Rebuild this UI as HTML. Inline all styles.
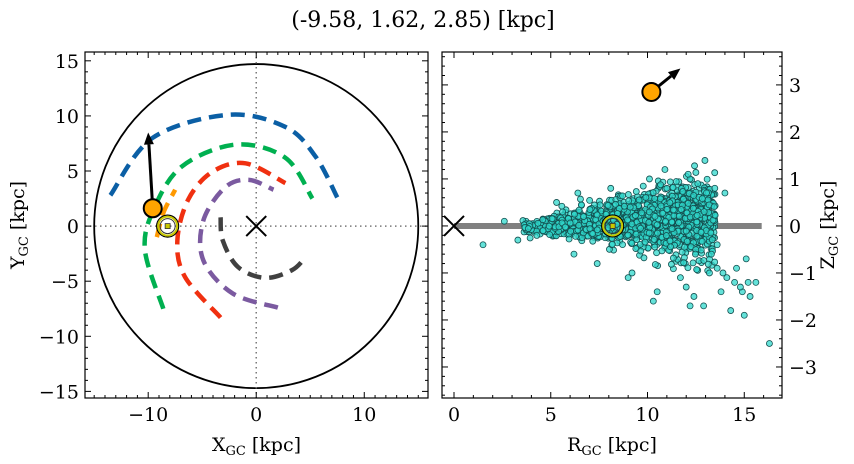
<!DOCTYPE html>
<html><head><meta charset="utf-8"><style>
body{margin:0;background:#fff}
svg{display:block;font-family:"DejaVu Serif","Liberation Serif",serif}
</style></head><body>
<svg id="fig" width="854" height="464" viewBox="0 0 854 464">
<text x="423" y="27" font-size="22" text-anchor="middle">(-9.58, 1.62, 2.85) [kpc]</text>
<g id="left"></g>
<g id="right"></g>
</svg>
<script>
// ---- data ----
const galaxyRadius = 15;
const blueArc = [[-13.5,2.8],[-9.6,8],[-2.6,10.1],[2.7,9],[5.5,6.3],[7.5,2.6]];
const greenArc = [[-8.6,-7.5],[-10.3,-2.2],[-9.5,1.5],[-6.9,5.4],[-1.9,7.4],[2.7,6.2],[5.2,2.5]];
const orangeArc = [[-9.2,-1],[-8.6,1.2],[-7.5,3.3]];
const redArc = [[-3.3,-8.3],[-6.6,-4.6],[-7.3,-1.3],[-6.3,2.4],[-4.1,4.9],[-1,5.7],[2.7,3.9]];
const purpleArc = [[2,-7.4],[-2.2,-6.1],[-4.9,-3.1],[-4.9,0.5],[-2.9,3.5],[-0.7,4.2],[1.6,3.3]];
const grayArc = [[-3.3,0.8],[-3.1,-1.3],[-1.7,-3.7],[0.8,-4.7],[3.3,-4],[4.5,-2.9]];
const arcColors = ['#0b5fa5','#00b050','#ff9900','#f03010','#7b5aa0','#404040'];
const starXY = [-9.58,1.62];
const starVelXY = [-10.0,8.5];
const sunXY = [-8.2,0];
const starRZ = [10.2,2.85];
const starVelRZ = [11.7,3.35];
const sunRZ = [8.2,0];
const xTicksL = [-10,0,10];
const yTicksL = [-15,-10,-5,0,5,10,15];
const xTicksR = [0,5,10,15];
const yTicksR = [-3,-2,-1,0,1,2,3];
const outlierR = [1.5,2.6,3.3,4.6,5.3,6.2,7.4,9.0,9.2,10.5,10.3,10.9,12.1,12.6,13.2,13.6,14.1,14.5,14.9,15.3,15.0,14.3,13.8,12.9,12.0,11.7,13.3,14.6,15.6,16.3,14.0,11.0,10.1,8.1,6.4,13.6,12.2,15.1,13.9,14.8,15.2,12.4];
const outlierZ = [-0.4,0.1,-0.3,-0.1,0.5,-0.6,-0.8,-1.1,-1.0,-1.4,-1.6,1.2,1.1,0.9,-1.0,-0.9,-1.1,-1.2,-1.4,-1.5,-1.9,-1.8,-1.4,-1.7,-1.3,-1.1,-0.6,-0.9,-1.2,-2.5,0.7,0.8,1.0,0.8,0.7,-0.4,-1.7,-0.7,-1.0,-1.3,-1.2,-1.5];
const cloudCount = 1400;

const NS='http://www.w3.org/2000/svg';
function el(tag,attrs,parent){const e=document.createElementNS(NS,tag);for(const k in attrs)e.setAttribute(k,attrs[k]);parent.appendChild(e);return e;}

const L={x0:85,x1:428,y0:52,y1:398,xmin:-15.85,xmax:15.9,ymin:-15.6,ymax:15.8};
const R={x0:442,x1:782,y0:52,y1:398,xmin:-0.62,xmax:16.95,ymin:-3.66,ymax:3.7};
const sx=(A,v)=>A.x0+(v-A.xmin)/(A.xmax-A.xmin)*(A.x1-A.x0);
const sy=(A,v)=>A.y1-(v-A.ymin)/(A.ymax-A.ymin)*(A.y1-A.y0);

function smoothPath(A,pts){
  const p=pts.map(q=>[sx(A,q[0]),sy(A,q[1])]);
  let d='M'+p[0][0]+','+p[0][1];
  for(let i=0;i<p.length-1;i++){
    const p0=p[Math.max(i-1,0)],p1=p[i],p2=p[i+1],p3=p[Math.min(i+2,p.length-1)];
    const c1=[p1[0]+(p2[0]-p0[0])/6,p1[1]+(p2[1]-p0[1])/6];
    const c2=[p2[0]-(p3[0]-p1[0])/6,p2[1]-(p3[1]-p1[1])/6];
    d+=` C${c1[0]},${c1[1]} ${c2[0]},${c2[1]} ${p2[0]},${p2[1]}`;
  }
  return d;
}
function arrow(g,A,a,b,name){
  const x1=sx(A,a[0]),y1=sy(A,a[1]),x2=sx(A,b[0]),y2=sy(A,b[1]);
  const ang=Math.atan2(y2-y1,x2-x1),h=12,w=5;
  const bx=x2-h*Math.cos(ang),by=y2-h*Math.sin(ang);
  const ln=el('line',{x1,y1,x2:bx,y2:by,stroke:'#000','stroke-width':3},g);
  
  
  const hd=el('polygon',{points:`${x2},${y2} ${bx-w*Math.sin(ang)},${by+w*Math.cos(ang)} ${bx+w*Math.sin(ang)},${by-w*Math.cos(ang)}`,fill:'#000'},g);
  
  
}
function sun(g,A,p){
  const cx=sx(A,p[0]),cy=sy(A,p[1]);
  const s=el('g',{},g);
  
  
  el('circle',{cx,cy,r:11,fill:'none',stroke:'#000','stroke-width':1.2},s);
  el('circle',{cx,cy,r:9.5,fill:'none',stroke:'#c8c800','stroke-width':2},s);
  el('circle',{cx,cy,r:7.5,fill:'none',stroke:'#333','stroke-width':1},s);
  el('rect',{x:cx-2.5,y:cy-2.5,width:5,height:5,fill:'#c8c800',stroke:'#333','stroke-width':0.8},s);
}
function xMarker(g,A,p){
  const cx=sx(A,p[0]),cy=sy(A,p[1]),r=10;
  const m=el('path',{d:`M${cx-r},${cy-r}L${cx+r},${cy+r}M${cx-r},${cy+r}L${cx+r},${cy-r}`,stroke:'#000','stroke-width':2},g);
  
  
}
function star(g,A,p){
  const c=el('circle',{cx:sx(A,p[0]),cy:sy(A,p[1]),r:9,fill:'#ffa500',stroke:'#000','stroke-width':2},g);
  
  
}
function axes(g,A,xt,yt,xminor,yminor,labelSide,xlab,ylab,name){
  const f=el('rect',{x:A.x0,y:A.y0,width:A.x1-A.x0,height:A.y1-A.y0,fill:'none',stroke:'#000','stroke-width':1.2},g);
  
  
  const tk=el('g',{stroke:'#000','stroke-width':1},g);
  for(let v=Math.ceil(A.xmin/xminor)*xminor;v<=A.xmax;v+=xminor){
    const x=sx(A,v);const maj=xt.some(t=>Math.abs(t-v)<1e-6);const l=maj?6:3;
    el('line',{x1:x,y1:A.y1,x2:x,y2:A.y1-l},tk);el('line',{x1:x,y1:A.y0,x2:x,y2:A.y0+l},tk);
  }
  for(let v=Math.ceil(A.ymin/yminor-1e-9)*yminor;v<=A.ymax;v+=yminor){
    const y=sy(A,v);const maj=yt.some(t=>Math.abs(t-v)<1e-6);const l=maj?6:3;
    el('line',{x1:A.x0,y1:y,x2:A.x0+l,y2:y},tk);el('line',{x1:A.x1,y1:y,x2:A.x1-l,y2:y},tk);
  }
  xt.forEach(v=>{const t=el('text',{x:sx(A,v),y:A.y1+23,'font-size':19,'text-anchor':'middle'},g);t.textContent=v<0?'\u2212'+(-v):v;
    });
  yt.forEach(v=>{const t=el('text',{x:labelSide==='left'?A.x0-6:A.x1+7,y:sy(A,v)+7,'font-size':19,'text-anchor':labelSide==='left'?'end':'start'},g);t.textContent=v<0?'\u2212'+(-v):v;
    });
  const xl=el('text',{x:(A.x0+A.x1)/2,y:451,'font-size':19,'text-anchor':'middle'},g);
  xl.innerHTML=xlab;
  
  const yx=labelSide==='left'?24:834, yy=(A.y0+A.y1)/2;
  const yl=el('text',{x:yx,y:yy,'font-size':19,'text-anchor':'middle',transform:`rotate(-90 ${yx} ${yy})`},g);
  yl.innerHTML=ylab;
  
}

// ---- left panel ----
const gl=document.getElementById('left');
const circ=el('circle',{cx:sx(L,0),cy:sy(L,0),r:(sx(L,galaxyRadius)-sx(L,0)),fill:'none',stroke:'#000','stroke-width':1.8},gl);


const dv=el('line',{x1:sx(L,0),y1:L.y0,x2:sx(L,0),y2:L.y1,stroke:'#777','stroke-width':1.5,'stroke-dasharray':'1.5,3.5'},gl);

const dh=el('line',{x1:L.x0,y1:sy(L,0),x2:L.x1,y2:sy(L,0),stroke:'#777','stroke-width':1.5,'stroke-dasharray':'1.5,3.5'},gl);

const arcs=[blueArc,greenArc,orangeArc,redArc,purpleArc,grayArc];
const arcNames=['blue-orbit-arc','green-orbit-arc','orange-orbit-arc','red-orbit-arc','purple-orbit-arc','gray-orbit-arc'];
arcs.forEach((a,i)=>{const p=el('path',{d:smoothPath(L,a),fill:'none',stroke:arcColors[i],'stroke-width':4.5,'stroke-dasharray':'14,8'},gl);
  });
xMarker(gl,L,[0,0]);
sun(gl,L,sunXY);
arrow(gl,L,starXY,starVelXY,'velocity-arrow-xy');
star(gl,L,starXY);
axes(gl,L,xTicksL,yTicksL,1,1,'left','X<tspan font-size="13" dy="4">GC</tspan><tspan dy="-4"> [kpc]</tspan>','Y<tspan font-size="13" dy="4">GC</tspan><tspan dy="-4"> [kpc]</tspan>','xy');

// ---- right panel ----
const gr=document.getElementById('right');
const band=el('line',{x1:sx(R,0),y1:sy(R,0),x2:sx(R,15.9),y2:sy(R,0),stroke:'#808080','stroke-width':6},gr);

xMarker(gr,R,[0,0]);
let seed=12345;function rnd(){seed=(seed*1103515245+12345)%2147483648;return seed/2147483648;}
function gauss(){return Math.sqrt(-2*Math.log(rnd()+1e-9))*Math.cos(2*Math.PI*rnd());}
const cloudR=[],cloudZ=[];
for(let i=0;i<cloudCount;i++){
  const r=3.5+10*Math.pow(rnd(),0.7);
  const s=0.05+0.04*(r-3.5);
  cloudR.push(r);cloudZ.push(gauss()*s+0.02*(r-5));
}
const sc=el('g',{fill:'#30d8cc','fill-opacity':0.75,stroke:'#145050','stroke-width':0.8},gr);

const allR=cloudR.concat(outlierR),allZ=cloudZ.concat(outlierZ);
for(let i=0;i<allR.length;i++){
  const x=sx(R,allR[i]),y=sy(R,allZ[i]);
  if(x<R.x0-3||x>R.x1+3||y<R.y0||y>R.y1)continue;
  el('circle',{cx:x,cy:y,r:3},sc);
}
sun(gr,R,sunRZ);
arrow(gr,R,starRZ,starVelRZ,'velocity-arrow-rz');
star(gr,R,starRZ);
const cover=el('rect',{x:R.x1+0.6,y:R.y0,width:20,height:R.y1-R.y0,fill:'#fff'},gr);

axes(gr,R,xTicksR,yTicksR,1,0.2,'right','R<tspan font-size="13" dy="4">GC</tspan><tspan dy="-4"> [kpc]</tspan>','Z<tspan font-size="13" dy="4">GC</tspan><tspan dy="-4"> [kpc]</tspan>','rz');
</script>
</body></html>
